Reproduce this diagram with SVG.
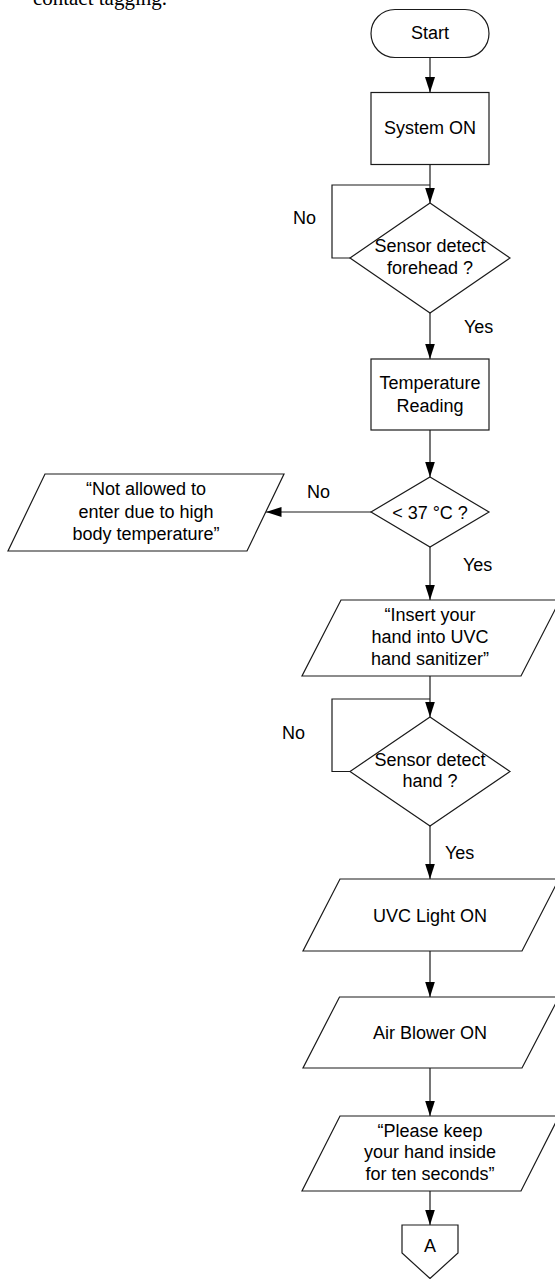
<svg xmlns="http://www.w3.org/2000/svg" width="555" height="1279" viewBox="0 0 555 1279">
  <style>
    .shape { fill: #ffffff; stroke: #1a1a1a; stroke-width: 1.2; }
    .conn { fill: none; stroke: #1a1a1a; stroke-width: 1.2; }
    .t { font-family: "Liberation Sans", Arial, sans-serif; font-size: 18px; fill: #000; text-anchor: middle; }
    .lbl { font-family: "Liberation Sans", Arial, sans-serif; font-size: 18px; fill: #000; }
    .doc { font-family: "Liberation Serif", "Times New Roman", serif; font-size: 21px; fill: #000; text-anchor: end; }
  </style>
  <defs>
    <marker id="arrow" markerUnits="userSpaceOnUse" markerWidth="16" markerHeight="11" refX="15.5" refY="5" orient="auto">
      <path d="M0,0 L15.5,5 L0,10 z" fill="#000"/>
    </marker>
  </defs>
  <rect width="555" height="1279" fill="#ffffff"/>

  <text class="doc" x="167" y="5">contact tagging.</text>

  <g id="connectors">
    <line class="conn" x1="430" y1="57" x2="430" y2="92.5" marker-end="url(#arrow)"/>
    <line class="conn" x1="430" y1="164.5" x2="430" y2="203" marker-end="url(#arrow)"/>
    <polyline class="conn" points="350,258 332,258 332,185 430,185"/>
    <line class="conn" x1="430" y1="313" x2="430" y2="359" marker-end="url(#arrow)"/>
    <line class="conn" x1="430" y1="430" x2="430" y2="477" marker-end="url(#arrow)"/>
    <line class="conn" x1="371" y1="512" x2="266" y2="512" marker-end="url(#arrow)"/>
    <line class="conn" x1="430" y1="547" x2="430" y2="600" marker-end="url(#arrow)"/>
    <line class="conn" x1="430" y1="676" x2="430" y2="717" marker-end="url(#arrow)"/>
    <polyline class="conn" points="350,771.5 332,771.5 332,699 430,699"/>
    <line class="conn" x1="430" y1="826" x2="430" y2="879" marker-end="url(#arrow)"/>
    <line class="conn" x1="430" y1="951" x2="430" y2="997" marker-end="url(#arrow)"/>
    <line class="conn" x1="430" y1="1068" x2="430" y2="1116" marker-end="url(#arrow)"/>
    <line class="conn" x1="430" y1="1191" x2="430" y2="1225" marker-end="url(#arrow)"/>
    <text class="lbl" x="293" y="224">No</text>
    <text class="lbl" x="464" y="333">Yes</text>
    <text class="lbl" x="307" y="498">No</text>
    <text class="lbl" x="463" y="571">Yes</text>
    <text class="lbl" x="282" y="739">No</text>
    <text class="lbl" x="445" y="859">Yes</text>
  </g>

  <g id="start">
    <rect class="shape" x="371" y="9.5" width="118" height="48" rx="24" ry="24"/>
    <text class="t" x="430" y="39">Start</text>
  </g>

  <g id="system-on">
    <rect class="shape" x="371" y="92.5" width="118" height="72"/>
    <text class="t" x="430" y="134">System ON</text>
  </g>

  <g id="detect-forehead">
    <polygon class="shape" points="430,203 510,258 430,313 350,258"/>
    <text class="t" x="430" y="252">Sensor detect</text>
    <text class="t" x="430" y="274">forehead ?</text>
  </g>

  <g id="temperature-reading">
    <rect class="shape" x="371" y="359" width="118" height="71"/>
    <text class="t" x="430" y="389">Temperature</text>
    <text class="t" x="430" y="412">Reading</text>
  </g>

  <g id="temp-check">
    <polygon class="shape" points="430,477 489,512 430,547 371,512"/>
    <text class="t" x="430" y="518.5">&lt; 37 °C ?</text>
  </g>

  <g id="not-allowed">
    <polygon class="shape" points="45,474 284,474 247,551 8,551"/>
    <text class="t" x="146" y="495">“Not allowed to</text>
    <text class="t" x="146" y="517.5">enter due to high</text>
    <text class="t" x="146" y="539.5">body temperature”</text>
  </g>

  <g id="insert-hand">
    <polygon class="shape" points="341,600 560,600 521,676 302,676"/>
    <text class="t" x="430" y="621">“Insert your</text>
    <text class="t" x="430" y="643">hand into UVC</text>
    <text class="t" x="430" y="665">hand sanitizer”</text>
  </g>

  <g id="detect-hand">
    <polygon class="shape" points="430,717 510,771.5 430,826 350,771.5"/>
    <text class="t" x="430" y="765.5">Sensor detect</text>
    <text class="t" x="430" y="787">hand ?</text>
  </g>

  <g id="uvc-light">
    <polygon class="shape" points="340,879 559,879 522,951 303,951"/>
    <text class="t" x="430" y="922">UVC Light ON</text>
  </g>

  <g id="air-blower">
    <polygon class="shape" points="339.5,997 559,997 522,1068 303,1068"/>
    <text class="t" x="430" y="1038.5">Air Blower ON</text>
  </g>

  <g id="keep-hand">
    <polygon class="shape" points="340,1116 559,1116 521,1191 302,1191"/>
    <text class="t" x="430" y="1137">“Please keep</text>
    <text class="t" x="430" y="1157.5">your hand inside</text>
    <text class="t" x="430" y="1180">for ten seconds”</text>
  </g>

  <g id="connector-a">
    <polygon class="shape" points="402,1225 458,1225 458,1253 430,1278.5 402,1253"/>
    <text class="t" x="430" y="1251.5">A</text>
  </g>
</svg>
